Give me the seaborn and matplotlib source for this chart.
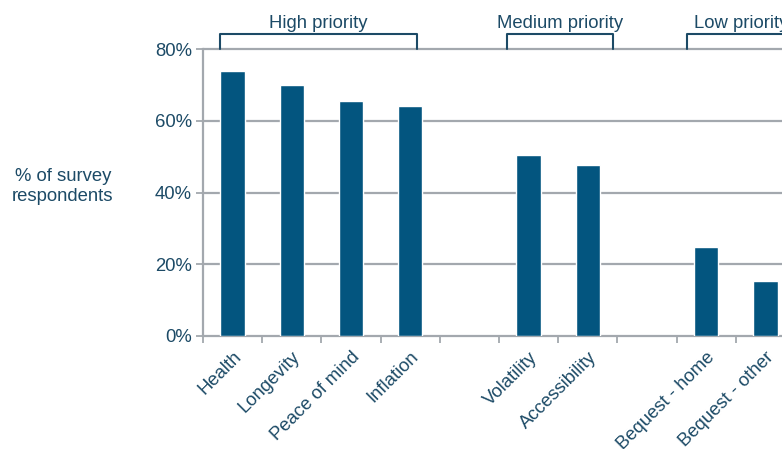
import matplotlib
matplotlib.use("Agg")
import matplotlib.pyplot as plt
import seaborn as sns
import pandas as pd
import numpy as np

categories = ["Health", "Longevity", "Peace of mind", "Inflation",
              "Volatility", "Accessibility", "Bequest - home", "Bequest - other"]
values = [73.9, 70.0, 65.5, 64.1, 50.4, 47.6, 24.7, 15.3]
order = ["Health", "Longevity", "Peace of mind", "Inflation", "gap1",
         "Volatility", "Accessibility", "gap2", "Bequest - home", "Bequest - other"]
groups = ["High priority", "Medium priority", "Low priority"]
group_spans = [(-0.21, 3.11), (4.64, 6.43), (7.68, 10.5)]
yticks = [0, 20, 40, 60, 80]

sns.set_theme(style="white")
plt.rcParams['font.family'] = ['Liberation Sans', 'DejaVu Sans']

BAR = "#03557F"
TXT = "#1C4A66"
GRID = "#A3A8AE"
FS = 13.3

fig = plt.figure(figsize=(7.82, 4.49), dpi=100)
ax = fig.add_axes([203/782, 1-336/449, (795-203)/782, (336-49)/449])

df = pd.DataFrame({"cat": categories, "val": values})
sns.barplot(data=df, x="cat", y="val", order=order, color=BAR, width=0.41,
            saturation=1, ax=ax, zorder=3)

ax.set_ylim(0, 80)
ax.set_xlim(-0.5, len(order) - 0.5)
ax.set_yticks(yticks)
ax.set_yticklabels([f"{t}%" for t in yticks], color=TXT, fontsize=FS)
for t in yticks[1:]:
    ax.axhline(t, color=GRID, lw=1.6, zorder=1, clip_on=False)

ax.set_xticks(range(len(order)))
ax.set_xticklabels([c if not c.startswith("gap") else "" for c in order],
                   rotation=45, ha="right", rotation_mode="anchor",
                   color=TXT, fontsize=FS)
ax.tick_params(axis="x", which="major", length=0, pad=9)
ax.set_xticks(np.arange(-0.5, len(order), 1), minor=True)
ax.tick_params(axis="x", which="minor", length=5, width=1.3, color=GRID, direction="out", bottom=True)
ax.tick_params(axis="y", length=5, width=1.3, color=GRID, direction="out", left=True, pad=3)

for s in ["top", "right"]:
    ax.spines[s].set_visible(False)
for s in ["left", "bottom"]:
    ax.spines[s].set_color(GRID)
    ax.spines[s].set_linewidth(1.6)

ax.set_xlabel("")
ax.set_ylabel("% of survey\nrespondents", rotation=0, color=TXT, fontsize=FS,
              labelpad=0, ha="center", va="center", linespacing=1.25)
ax.yaxis.set_label_coords(-0.237, 0.52)

# group brackets
trans = ax.get_xaxis_transform()
for name, (x0, x1) in zip(groups, group_spans):
    ax.plot([x0, x0, x1, x1], [1.0, 1.052, 1.052, 1.0], color=TXT, lw=1.5,
            transform=trans, clip_on=False, zorder=5)
    if name == "Low priority":
        ax.text(x0 + 0.12, 1.073, name, transform=trans, ha="left", va="baseline",
                color=TXT, fontsize=FS)
    else:
        ax.text((x0 + x1) / 2, 1.073, name, transform=trans, ha="center", va="baseline",
                color=TXT, fontsize=FS)

fig.savefig("out.png", dpi=100)
